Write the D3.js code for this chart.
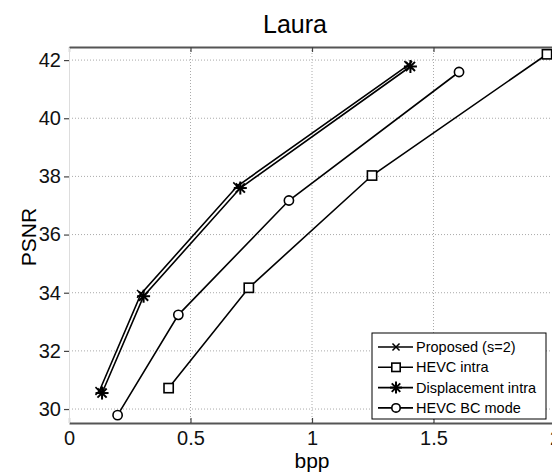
<!DOCTYPE html>
<html>
<head>
<meta charset="utf-8">
<script src="https://cdn.jsdelivr.net/npm/d3@7"></script>
<style>
  body { margin: 0; background: #fff; }
  svg { font-family: "Liberation Sans", Arial, sans-serif; }
</style>
</head>
<body>
<div id="chart"></div>
<script>
// values
const xTicks = [0, 0.5, 1, 1.5, 2]
const yTicks = [30, 32, 34, 36, 38, 40, 42]
const seriesNames = ['Proposed (s=2)', 'HEVC intra', 'Displacement intra', 'HEVC BC mode']
const markers = ['times', 'square', 'asterisk', 'circle']

const proposedBpp = [0.125, 0.296, 0.692, 1.396]
const proposedPsnr = [30.62, 33.96, 37.66, 41.83]
const hevcIntraBpp = [0.41, 0.74, 1.247, 1.967]
const hevcIntraPsnr = [30.72, 34.17, 38.03, 42.2]
const displacementBpp = [0.136, 0.307, 0.705, 1.405]
const displacementPsnr = [30.55, 33.88, 37.6, 41.78]
const bcModeBpp = [0.2, 0.45, 0.905, 1.605]
const bcModePsnr = [29.79, 33.24, 37.17, 41.59]

const series = [
    { name: seriesNames[2], marker: markers[2], bpp: displacementBpp, psnr: displacementPsnr },
    { name: seriesNames[0], marker: markers[0], bpp: proposedBpp, psnr: proposedPsnr },
    { name: seriesNames[1], marker: markers[1], bpp: hevcIntraBpp, psnr: hevcIntraPsnr },
    { name: seriesNames[3], marker: markers[3], bpp: bcModeBpp, psnr: bcModePsnr }
]

const W = 552, H = 476
const margin = { top: 47, right: -3, bottom: 53, left: 69 }
const width = W - margin.left - margin.right
const height = H - margin.top - margin.bottom

const svg = d3.select('#chart').append('svg')
    .attr('width', W)
    .attr('height', H)

const g = svg.append('g')
    .attr('transform', `translate(${margin.left}, ${margin.top})`)

const x = d3.scaleLinear().domain([0, 2]).range([0, width])
const y = d3.scaleLinear().domain([29.52, 42.45]).range([height, 0])

// grid
g.append('g').selectAll('line')
    .data(xTicks.slice(1, -1)).enter()
    .append('line')
    .attr('x1', d => x(d)).attr('x2', d => x(d))
    .attr('y1', 0).attr('y2', height)
    .attr('stroke', '#aaa').attr('stroke-dasharray', '1,2')

g.append('g').selectAll('line')
    .data(yTicks).enter()
    .append('line')
    .attr('x1', 0).attr('x2', width)
    .attr('y1', d => y(d)).attr('y2', d => y(d))
    .attr('stroke', '#aaa').attr('stroke-dasharray', '1,2')

// axes
const axisColor = '#555'
const xAxis = g.append('g')
    .attr('transform', `translate(0, ${height})`)
    .call(d3.axisBottom(x).tickValues(xTicks).tickSizeInner(-5).tickSizeOuter(0).tickPadding(8)
        .tickFormat(d => d3.format('')(d)))
xAxis.selectAll('text').style('font-size', '20px').attr('fill', '#111')

const xTop = g.append('g')
    .call(d3.axisTop(x).tickValues(xTicks).tickSizeInner(-5).tickSizeOuter(0).tickFormat(''))

const yAxis = g.append('g')
    .call(d3.axisLeft(y).tickValues(yTicks).tickSizeInner(5).tickSizeOuter(0).tickPadding(3))
yAxis.selectAll('text').style('font-size', '20px').attr('fill', '#111')
yAxis.select('.domain').attr('stroke', '#ddd')

for (const a of [xAxis, xTop]) {
    a.select('.domain').attr('stroke', axisColor).attr('stroke-width', 2)
}
g.selectAll('.tick line').attr('stroke', '#444').attr('stroke-width', 1.2)

// labels
svg.append('text')
    .attr('x', 295).attr('y', 33)
    .attr('text-anchor', 'middle')
    .style('font-size', '25px')
    .text('Laura')

svg.append('text')
    .attr('x', margin.left + x(1)).attr('y', 468)
    .attr('text-anchor', 'middle')
    .style('font-size', '21px')
    .text('bpp')

svg.append('text')
    .attr('transform', `translate(36, 237) rotate(-90)`)
    .attr('text-anchor', 'middle')
    .style('font-size', '21px')
    .text('PSNR')

// markers
function drawMarker(sel, type, s) {
    if (type === 'circle') {
        sel.append('circle').attr('r', s * 0.42).attr('fill', '#fff').attr('stroke', '#000').attr('stroke-width', 1.6)
    } else if (type === 'square') {
        sel.append('rect').attr('x', -s * 0.42).attr('y', -s * 0.42)
            .attr('width', s * 0.84).attr('height', s * 0.84)
            .attr('fill', '#fff').attr('stroke', '#000').attr('stroke-width', 1.6)
    } else {
        const r = s * 0.5
        const angles = type === 'times' ? [45, 135] : [0, 45, 90, 135]
        angles.forEach(a => {
            const rad = a * Math.PI / 180
            sel.append('line')
                .attr('x1', -r * Math.cos(rad)).attr('y1', -r * Math.sin(rad))
                .attr('x2', r * Math.cos(rad)).attr('y2', r * Math.sin(rad))
                .attr('stroke', '#000').attr('stroke-width', type === 'times' ? 1.5 : 2)
        })
    }
}

const line = d3.line().x(d => x(d[0])).y(d => y(d[1]))

series.forEach(s => {
    const pts = s.bpp.map((b, i) => [b, s.psnr[i]])
    g.append('path')
        .datum(pts)
        .attr('d', line)
        .attr('fill', 'none')
        .attr('stroke', '#000')
        .attr('stroke-width', 1.6)
    pts.forEach(p => {
        const m = g.append('g').attr('transform', `translate(${x(p[0])}, ${y(p[1])})`)
        drawMarker(m, s.marker, s.marker === 'asterisk' ? 13 : 11)
    })
})

// legend
const legend = svg.append('g').attr('transform', 'translate(372, 333)')
legend.append('rect')
    .attr('width', 174).attr('height', 86)
    .attr('fill', '#fff').attr('stroke', '#000').attr('stroke-width', 1)

seriesNames.forEach((name, i) => {
    const row = legend.append('g').attr('transform', `translate(0, ${14 + i * 20.3})`)
    row.append('line').attr('x1', 6).attr('x2', 41).attr('stroke', '#000').attr('stroke-width', 1.6)
    drawMarker(row.append('g').attr('transform', 'translate(24, 0)'), markers[i], markers[i] === 'asterisk' ? 12 : 10)
    row.append('text')
        .attr('x', 44).attr('y', 5)
        .style('font-size', '14.5px')
        .text(name)
})
</script>
</body>
</html>
